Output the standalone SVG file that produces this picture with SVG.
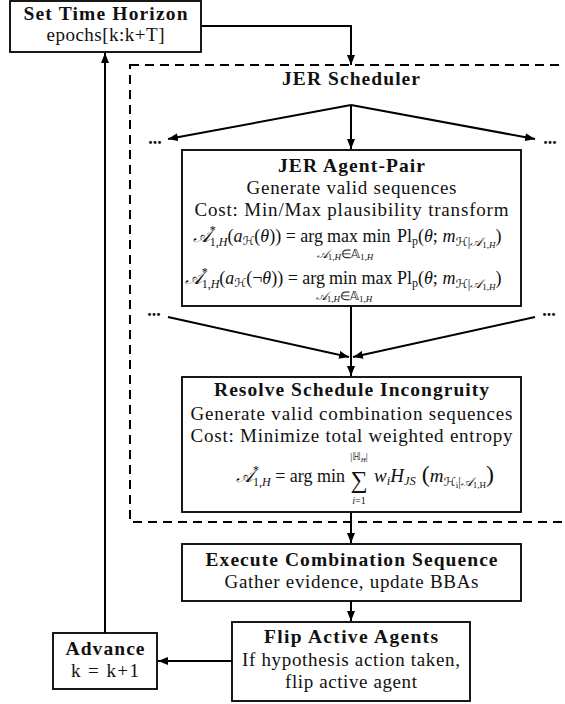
<svg xmlns="http://www.w3.org/2000/svg" width="565" height="704" viewBox="0 0 565 704">
<defs>
<marker id="ah" markerUnits="userSpaceOnUse" markerWidth="10" markerHeight="8" refX="10" refY="4" orient="auto"><path d="M0,0 L10,4 L0,8 z" fill="#000"/></marker>
</defs>
<style>
.box{fill:#fff;stroke:#000;stroke-width:1.8}
.dash{fill:none;stroke:#000;stroke-width:2;stroke-dasharray:9 6}
.t{font-family:"Liberation Serif","Times New Roman",serif;font-size:19px;fill:#111;text-anchor:middle}
.b{font-weight:bold;font-size:19.5px}
.m{font-family:"Liberation Serif","Times New Roman",serif;font-size:18px;fill:#111}
.s{font-size:12px}
.cal{font-family:"DejaVu Serif","DejaVu Sans",serif;font-style:italic}
.dbl{font-family:"DejaVu Sans","DejaVu Serif",sans-serif}
.dots{font-family:"Liberation Serif",serif;font-size:18px;font-weight:bold;fill:#111;text-anchor:middle}
.c{fill:none;stroke:#000;stroke-width:2;marker-end:url(#ah)}
</style>
<rect width="565" height="704" fill="#fff"/>
<g id="jer-scheduler">
<rect class="dash" x="130" y="65" width="445" height="457"/>
<text class="t b" x="351" y="85" textLength="138">JER Scheduler</text>
</g>
<g id="dots">
<text class="dots" x="155" y="144">...</text>
<text class="dots" x="550" y="144">...</text>
<text class="dots" x="154" y="316">...</text>
<text class="dots" x="549" y="316">...</text>
</g>
<g id="connectors">
<path class="c" d="M201,26 H351 V65"/>
<path class="c" d="M351,105 L168,139"/>
<path class="c" d="M351,105 V149"/>
<path class="c" d="M351,105 L535,139"/>
<path class="c" d="M168,317 L349,357"/>
<path class="c" d="M535,317 L353,357"/>
<path class="c" d="M351,306 V376"/>
<path class="c" d="M351,512 V543"/>
<path class="c" d="M351,601 V621"/>
<path class="c" d="M232,661 H158"/>
<path class="c" d="M105,633 V53"/>
</g>
<g id="set-time-horizon">
<rect class="box" x="10" y="1" width="191" height="51"/>
<text class="t b" x="105.5" y="20" textLength="164">Set Time Horizon</text>
<text class="t" x="105.5" y="41" textLength="118">epochs[k:k+T]</text>
</g>
<g id="jer-agent-pair">
<rect class="box" x="182" y="150" width="339" height="156"/>
<text class="t b" x="351.5" y="172" textLength="147">JER Agent-Pair</text>
<text class="t" x="351.5" y="194" textLength="210">Generate valid sequences</text>
<text class="t" x="351.5" y="216" textLength="314">Cost: Min/Max plausibility transform</text>
<text class="m" x="323" y="242" text-anchor="end"><tspan class="cal">𝒜</tspan><tspan font-size="12" dy="-8">*</tspan><tspan font-size="12" dx="-6" dy="12">1,<tspan font-style="italic">H</tspan></tspan><tspan dy="-4">(</tspan><tspan font-style="italic">a</tspan><tspan font-size="12" dy="3" class="cal">ℋ</tspan><tspan dy="-3">(</tspan><tspan font-style="italic">θ</tspan>)) = arg</text>
<text class="m" x="327" y="242">max min</text>
<text class="m s" x="345" y="258" text-anchor="middle"><tspan class="cal">𝒜</tspan><tspan font-size="9" dy="2">1,<tspan font-style="italic">H</tspan></tspan><tspan dy="-2">∈</tspan><tspan class="dbl">𝔸</tspan><tspan font-size="9" dy="2">1,<tspan font-style="italic">H</tspan></tspan></text>
<text class="m" x="397" y="242">Pl<tspan font-size="12" dy="3">p</tspan><tspan dy="-3">(</tspan><tspan font-style="italic">θ</tspan>; <tspan font-style="italic">m</tspan><tspan font-size="12.5" dy="4"><tspan class="cal">ℋ</tspan>|<tspan class="cal">𝒜</tspan><tspan font-size="9" dy="2">1,<tspan font-style="italic">H</tspan></tspan></tspan><tspan dy="-6">)</tspan></text>
<text class="m" x="325" y="284" text-anchor="end"><tspan class="cal">𝒜</tspan><tspan font-size="12" dy="-8">*</tspan><tspan font-size="12" dx="-6" dy="12">1,<tspan font-style="italic">H</tspan></tspan><tspan dy="-4">(</tspan><tspan font-style="italic">a</tspan><tspan font-size="12" dy="3" class="cal">ℋ</tspan><tspan dy="-3">(¬</tspan><tspan font-style="italic">θ</tspan>)) = arg</text>
<text class="m" x="329" y="284">min max</text>
<text class="m s" x="344" y="300" text-anchor="middle"><tspan class="cal">𝒜</tspan><tspan font-size="9" dy="2">1,<tspan font-style="italic">H</tspan></tspan><tspan dy="-2">∈</tspan><tspan class="dbl">𝔸</tspan><tspan font-size="9" dy="2">1,<tspan font-style="italic">H</tspan></tspan></text>
<text class="m" x="397" y="284">Pl<tspan font-size="12" dy="3">p</tspan><tspan dy="-3">(</tspan><tspan font-style="italic">θ</tspan>; <tspan font-style="italic">m</tspan><tspan font-size="12.5" dy="4"><tspan class="cal">ℋ</tspan>|<tspan class="cal">𝒜</tspan><tspan font-size="9" dy="2">1,<tspan font-style="italic">H</tspan></tspan></tspan><tspan dy="-6">)</tspan></text>
</g>
<g id="resolve-schedule-incongruity">
<rect class="box" x="182" y="377" width="339" height="135"/>
<text class="t b" x="351.5" y="396" textLength="275">Resolve Schedule Incongruity</text>
<text class="t" x="351.5" y="420" textLength="322">Generate valid combination sequences</text>
<text class="t" x="351.5" y="442" textLength="322">Cost: Minimize total weighted entropy</text>
<text class="m" x="345" y="482" text-anchor="end"><tspan class="cal">𝒜</tspan><tspan font-size="12" dy="-8">*</tspan><tspan font-size="12" dx="-6" dy="12">1,<tspan font-style="italic">H</tspan></tspan><tspan dy="-4"> = arg min</tspan></text>
<text class="m" x="359" y="488" text-anchor="middle" style="font-size:24px">∑</text>
<text class="m" x="359" y="460" text-anchor="middle" style="font-size:10px">|<tspan class="dbl">ℍ</tspan><tspan font-size="7" dy="2" font-style="italic">H</tspan><tspan dy="-2">|</tspan></text>
<text class="m" x="359" y="504" text-anchor="middle" style="font-size:10px"><tspan font-style="italic">i</tspan>=1</text>
<text class="m" x="374" y="482" style="font-size:19px"><tspan font-style="italic">w</tspan><tspan font-size="12.5" dy="3" font-style="italic">i</tspan><tspan dy="-3" font-style="italic">H</tspan><tspan font-size="12.5" dy="3" font-style="italic">JS</tspan><tspan dy="-3" font-size="24"> (</tspan><tspan font-style="italic">m</tspan><tspan font-size="12.5" dy="4"><tspan class="cal">ℋ</tspan><tspan font-size="9" dy="2">i</tspan><tspan dy="-2">|</tspan><tspan class="cal">𝒜</tspan><tspan font-size="9" dy="2">1,H</tspan></tspan><tspan dy="-6" font-size="24">)</tspan></text>
</g>
<g id="execute-combination-sequence">
<rect class="box" x="182" y="544" width="339" height="57"/>
<text class="t b" x="351.5" y="566" textLength="292">Execute Combination Sequence</text>
<text class="t" x="351.5" y="588" textLength="254">Gather evidence, update BBAs</text>
</g>
<g id="flip-active-agents">
<rect class="box" x="232" y="622" width="238" height="79"/>
<text class="t b" x="351" y="643" textLength="174">Flip Active Agents</text>
<text class="t" x="351" y="666" textLength="218">If hypothesis action taken,</text>
<text class="t" x="351" y="688" textLength="132">flip active agent</text>
</g>
<g id="advance">
<rect class="box" x="53" y="633" width="104" height="56"/>
<text class="t b" x="105" y="655" textLength="79">Advance</text>
<text class="t" x="105" y="677" textLength="68">k = k+1</text>
</g>
</svg>
